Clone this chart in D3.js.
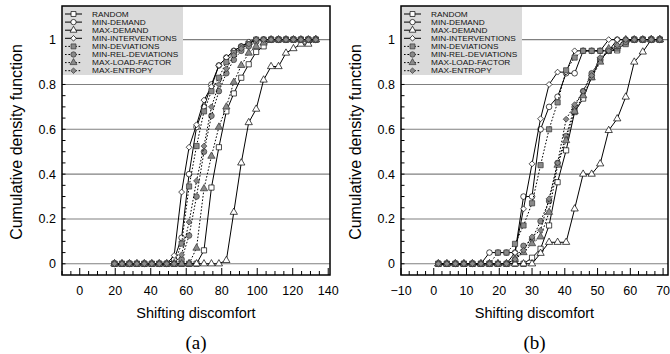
<!DOCTYPE html>
<html>
<head>
<meta charset="utf-8">
<script src="https://cdn.jsdelivr.net/npm/d3@7"></script>
<style>
  body { margin: 0; background: #fff; }
  text { font-family: "Liberation Sans", Arial, sans-serif; }
</style>
</head>
<body>
<script>
const W = 670, H = 354;

const seriesNames = ["RANDOM", "MIN-DEMAND", "MAX-DEMAND", "MIN-INTERVENTIONS",
    "MIN-DEVIATIONS", "MIN-REL-DEVIATIONS", "MAX-LOAD-FACTOR", "MAX-ENTROPY"];

// evaluation points of the CDF in each panel
const xGridA = [19.6, 23.8, 28.0, 32.2, 36.4, 40.6, 44.8, 49.0, 53.2, 57.4, 61.6, 65.8, 70.0, 74.2,
    78.4, 82.6, 86.8, 91.0, 95.2, 99.4, 103.6, 107.8, 112.0, 116.2, 120.4, 124.6, 128.8, 133.0];
const xGridB = [1.4, 4.0, 6.6, 9.2, 11.8, 14.4, 17.0, 19.6, 22.2, 24.8, 27.4, 30.0, 32.6, 35.2,
    37.8, 40.4, 43.0, 45.6, 48.2, 50.8, 53.4, 56.0, 58.6, 61.2, 63.8, 66.4, 69.0];

// panel (a)
const randomA    = [0,0,0,0,0,0,0,0,0,0,0,0, .06,.34,.52,.68,.76,.83,.89,.945,.97, 1,1,1,1,1,1,1];
const minDemA    = [0,0,0,0,0,0,0,0, .02,.116,.40,.61,.70,.80,.885,.92,.95,.97,.985, 1,1,1,1,1,1,1,1,1];
const maxDemA    = [0,0,0,0,0,0,0,0,0,0,0,0,0,0,0, .015,.23,.45,.63,.69,.82,.88,.88,.94,.96,.98,.98,1];
const minIntA    = [0,0,0,0,0,0,0,0, .037,.32,.52,.62,.73,.79,.885,.92,.95,.97,.99, 1,1,1,1,1,1,1,1,1];
const minDevA    = [0,0,0,0,0,0,0,0,0, .09,.345,.525,.68,.77,.83,.90,.94,.965,.98, 1,1,1,1,1,1,1,1,1];
const minRelDevA = [0,0,0,0,0,0,0,0,0, .02,.126,.30,.50,.66,.77,.85,.91,.95,.97,.99, 1,1,1,1,1,1,1,1];
const maxLoadA   = [0,0,0,0,0,0,0,0,0,0,0, .07,.335,.48,.61,.70,.81,.885,.94,.97,.985, 1,1,1,1,1,1,1];
const maxEntA    = [0,0,0,0,0,0,0,0,0, .04,.186,.37,.525,.70,.80,.87,.93,.96,.98, 1,1,1,1,1,1,1,1,1];

// panel (b)
const randomB    = [0,0,0,0,0,0,0,0,0,0,0, .027,.067,.171,.364,.506,.677,.737,.833,.91,.95,.952,.99, 1,1,1,1];
const minDemB    = [0,0,0,0,0,0, .05,.05,.05,.05,.30,.30,.60,.70,.745,.85,.85,.95,.95,.95,.95, 1,1,1,1,1,1];
const maxDemB    = [0,0,0,0,0,0,0,0,0,0,0,0, .047,.096,.096,.096,.245,.40,.40,.446,.595,.647,.744,.90,.945, 1,1];
const minIntB    = [0,0,0,0,0,0,0,0,0, .05,.245,.446,.647,.80,.855,.855,.95,.95,.95,.95, 1,1,1,1,1,1,1];
const minDevB    = [0,0,0,0,0,0,0, .05,.05,.089,.171,.27,.44,.60,.72,.863,.92,.95,.95,.95,.95,.96,.98, 1,1,1,1];
const minRelDevB = [0,0,0,0,0,0,0,0,0, .02,.08,.11,.19,.28,.45,.57,.70,.77,.85,.91,.95,.97,.99, 1,1,1,1];
const maxLoadB   = [0,0,0,0,0,0,0,0,0, .02,.05,.09,.12,.23,.44,.55,.68,.75,.83,.90,.96,.97, 1,1,1,1,1];
const maxEntB    = [0,0,0,0,0,0,0,0,0, .02,.06,.12,.15,.29,.45,.645,.71,.77,.84,.92,.95,.975, 1,1,1,1,1];

const yTicks = [0, 0.2, 0.4, 0.6, 0.8, 1];

// marker style per series (same order as seriesNames)
const styles = [
    { sym: d3.symbolSquare,   fill: "#fff",  dash: null },
    { sym: d3.symbolCircle,   fill: "#fff",  dash: null },
    { sym: d3.symbolTriangle, fill: "#fff",  dash: null },
    { sym: d3.symbolDiamond2, fill: "#fff",  dash: null },
    { sym: d3.symbolSquare,   fill: "#8a8a8a", dash: "1.6,1.8" },
    { sym: d3.symbolCircle,   fill: "#8a8a8a", dash: "1.6,1.8" },
    { sym: d3.symbolTriangle, fill: "#8a8a8a", dash: "1.6,1.8" },
    { sym: d3.symbolDiamond2, fill: "#8a8a8a", dash: "1.6,1.8" }
];
const symSize = [27, 25, 23, 22, 27, 25, 23, 22];

const svg = d3.select("body").append("svg")
    .attr("width", W)
    .attr("height", H);

function drawPanel(cfg) {
    const x = d3.scaleLinear().domain(cfg.xDomain).range([cfg.left, cfg.right]);
    const y = d3.scaleLinear().domain([-0.05, 1.15]).range([275, 6]);
    const g = svg.append("g");

    // grid lines
    g.selectAll(".grid")
        .data(yTicks)
        .enter().append("line")
        .attr("x1", cfg.left).attr("x2", cfg.right)
        .attr("y1", (d) => y(d)).attr("y2", (d) => y(d))
        .attr("stroke", "#808080")
        .attr("stroke-width", 1.1);

    // minor / major ticks, drawn inside the frame
    const yMinor = d3.range(0, 1.1001, 0.05);
    g.selectAll(".ytick")
        .data(yMinor)
        .enter().append("line")
        .attr("x1", cfg.left).attr("x2", cfg.left + 3.5)
        .attr("y1", (d) => y(d)).attr("y2", (d) => y(d))
        .attr("stroke", "#000");
    const xMinor = d3.range(cfg.xDomain[0], cfg.xDomain[1], cfg.minorStep);
    g.selectAll(".xtick")
        .data(xMinor)
        .enter().append("line")
        .attr("x1", (d) => x(d)).attr("x2", (d) => x(d))
        .attr("y1", 275)
        .attr("y2", (d) => Math.abs(d / cfg.majorStep - Math.round(d / cfg.majorStep)) < 1e-6 ? 268 : 271)
        .attr("stroke", "#000");

    // tick labels
    g.selectAll(".ylab")
        .data(yTicks)
        .enter().append("text")
        .attr("x", cfg.left - 6)
        .attr("y", (d) => y(d) + 4.5)
        .attr("text-anchor", "end")
        .attr("font-size", 12.5)
        .text((d) => d);
    g.selectAll(".xlab")
        .data(cfg.xTicks)
        .enter().append("text")
        .attr("x", (d) => x(d))
        .attr("y", 295)
        .attr("text-anchor", "middle")
        .attr("font-size", 12.5)
        .text((d) => d < 0 ? "\u2212" + Math.abs(d) : d);

    // series
    const line = d3.line()
        .x((d) => x(d[0]))
        .y((d) => y(d[1]));
    cfg.series.forEach((vals, i) => {
        const pts = cfg.xGrid.map((xv, k) => [xv, vals[k]]);
        g.append("path")
            .attr("d", line(pts))
            .attr("fill", "none")
            .attr("stroke", "#000")
            .attr("stroke-width", 1)
            .attr("stroke-dasharray", styles[i].dash);
        g.selectAll(".m" + i)
            .data(pts)
            .enter().append("path")
            .attr("transform", (d) => `translate(${x(d[0])},${y(d[1])})`)
            .attr("d", d3.symbol().type(styles[i].sym).size(symSize[i]))
            .attr("fill", styles[i].fill)
            .attr("stroke", styles[i].fill === "#fff" ? "#000" : "#333")
            .attr("stroke-width", 0.7);
    });

    // legend
    const lg = g.append("g");
    lg.append("rect")
        .attr("x", cfg.left).attr("y", 6)
        .attr("width", 121).attr("height", 69)
        .attr("fill", "#dadada");
    seriesNames.forEach((name, i) => {
        const cy = 14 + i * 8.1;
        lg.append("line")
            .attr("x1", cfg.left + 3).attr("x2", cfg.left + 20)
            .attr("y1", cy).attr("y2", cy)
            .attr("stroke", "#000")
            .attr("stroke-width", 1)
            .attr("stroke-dasharray", styles[i].dash);
        lg.append("path")
            .attr("transform", `translate(${cfg.left + 11.5},${cy})`)
            .attr("d", d3.symbol().type(styles[i].sym).size(symSize[i] * 0.9))
            .attr("fill", styles[i].fill)
            .attr("stroke", styles[i].fill === "#fff" ? "#000" : "#333")
            .attr("stroke-width", 0.7);
        // narrow font stretched sideways so rows do not collide
        lg.append("text")
            .attr("transform", `translate(${cfg.left + 30},${cy + 2.7}) scale(1.15,1)`)
            .attr("font-size", 7.2)
            .attr("fill", "#111")
            .text(name);
    });

    // frame
    g.append("rect")
        .attr("x", cfg.left).attr("y", 6)
        .attr("width", cfg.right - cfg.left).attr("height", 269)
        .attr("fill", "none")
        .attr("stroke", "#000")
        .attr("stroke-width", 1.5);

    // titles
    const cx = (cfg.left + cfg.right) / 2;
    g.append("text")
        .attr("x", cx).attr("y", 318)
        .attr("text-anchor", "middle")
        .attr("font-size", 14.5)
        .text("Shifting discomfort");
    g.append("text")
        .attr("transform", `translate(${cfg.left - 40},${142}) rotate(-90)`)
        .attr("text-anchor", "middle")
        .attr("font-size", 16)
        .text("Cumulative density function");
    g.append("text")
        .attr("x", cx).attr("y", 349)
        .attr("text-anchor", "middle")
        .attr("font-size", 19)
        .style("font-family", "'Liberation Serif', 'Times New Roman', serif")
        .text(cfg.label);
}

drawPanel({
    left: 62, right: 330,
    xDomain: [-10, 141],
    xTicks: [0, 20, 40, 60, 80, 100, 120, 140],
    minorStep: 5, majorStep: 20,
    xGrid: xGridA,
    series: [randomA, minDemA, maxDemA, minIntA, minDevA, minRelDevA, maxLoadA, maxEntA],
    label: "(a)"
});

drawPanel({
    left: 401, right: 668,
    xDomain: [-10, 71.5],
    xTicks: [-10, 0, 10, 20, 30, 40, 50, 60, 70],
    minorStep: 2.5, majorStep: 10,
    xGrid: xGridB,
    series: [randomB, minDemB, maxDemB, minIntB, minDevB, minRelDevB, maxLoadB, maxEntB],
    label: "(b)"
});
</script>
</body>
</html>
